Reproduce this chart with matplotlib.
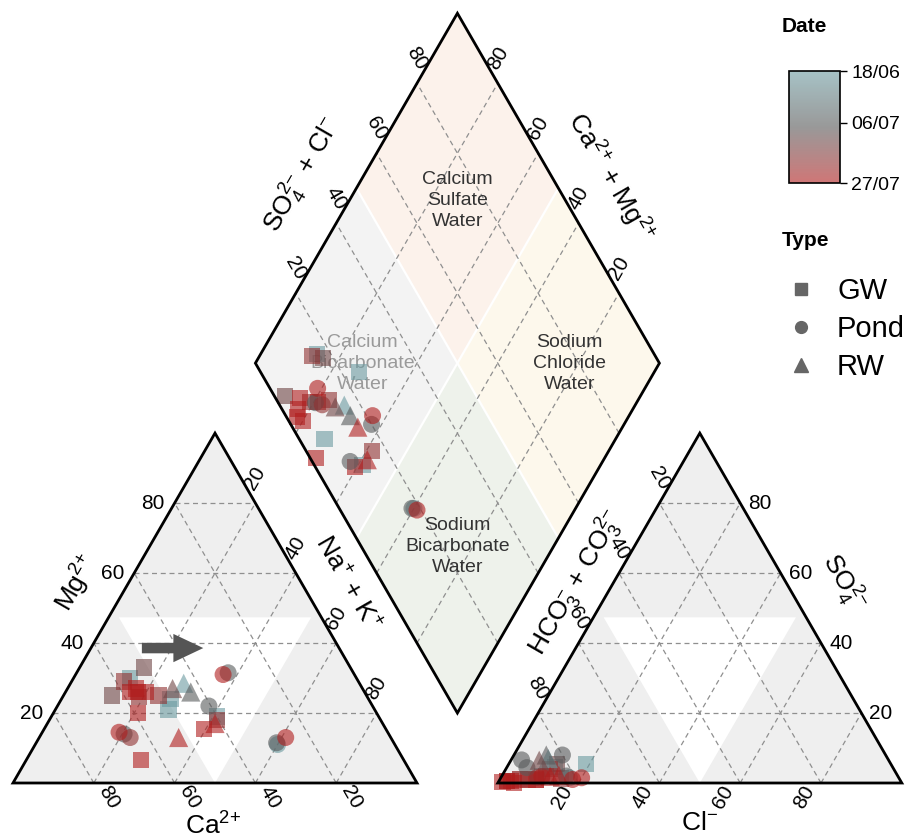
import numpy as np
import matplotlib.pyplot as plt
from matplotlib.colors import LinearSegmentedColormap, Normalize
from matplotlib.patches import Polygon, FancyArrow
from matplotlib.lines import Line2D
from datetime import date

plt.rcParams['font.family'] = ['Liberation Sans', 'DejaVu Sans']
plt.rcParams['mathtext.default'] = 'regular'

# ---------------- samples (meq %) ----------------
sample_type = ['GW', 'GW', 'GW', 'GW', 'GW', 'GW', 'GW', 'GW', 'GW', 'GW', 'GW',
               'RW', 'RW', 'RW', 'Pond', 'Pond', 'Pond', 'RW', 'GW', 'Pond', 'Pond',
               'Pond', 'GW', 'GW', 'GW', 'RW', 'Pond', 'Pond', 'Pond', 'GW', 'GW']
sample_date = ['13/07', '18/06', '20/07', '13/07', '27/07', '27/07', '27/07', '20/07',
               '18/06', '18/06', '27/07', '13/07', '18/06', '06/07', '27/07', '20/07',
               '06/07', '27/07', '27/07', '27/07', '06/07', '06/07', '27/07', '20/07',
               '18/06', '27/07', '06/07', '27/07', '18/06', '27/07', '20/07']
ca = [51.0, 56.0, 58.0, 63.0, 58.0, 56.0, 54.0, 51.5, 49.0, 51.0, 59.0,
      47.0, 43.5, 43.0, 66.5, 64.5, 65.5, 52.5, 65.0, 32.5, 31.0,
      40.5, 45.0, 40.5, 40.0, 41.5, 29.0, 26.0, 29.0, 56.0, 56.5]
mg = [33.0, 30.0, 29.0, 25.0, 26.0, 26.0, 26.0, 25.0, 24.0, 21.0, 20.0,
      27.0, 28.5, 26.0, 14.5, 13.0, 14.0, 13.0, 6.5, 31.0, 31.5,
      22.0, 15.5, 18.0, 19.0, 17.0, 11.5, 13.0, 11.0, 27.0, 24.5]
nak = [16.0, 14.0, 13.0, 12.0, 16.0, 18.0, 20.0, 23.5, 27.0, 28.0, 21.0,
       26.0, 28.0, 31.0, 19.0, 22.5, 20.5, 34.5, 28.5, 36.5, 37.5,
       37.5, 39.5, 41.5, 41.0, 41.5, 59.5, 61.0, 60.0, 17.0, 19.0]
hco3 = [82.5, 83.5, 85.0, 97.5, 94.0, 97.5, 96.5, 87.0, 75.5, 93.8, 90.0,
        86.5, 84.0, 84.0, 88.2, 89.4, 90.8, 83.8, 98.7, 78.5, 80.0,
        90.6, 90.2, 83.7, 88.0, 86.1, 82.0, 81.0, 81.5, 96.0, 92.0]
cl = [12.0, 12.0, 11.0, 2.0, 5.0, 2.0, 3.0, 11.0, 19.0, 5.0, 9.0,
      7.0, 9.0, 8.0, 10.0, 9.0, 2.6, 14.0, 1.0, 20.0, 12.0,
      5.0, 9.0, 15.0, 10.0, 12.0, 16.0, 18.0, 17.0, 4.0, 7.0]
so4 = [5.5, 4.5, 4.0, 0.5, 1.0, 0.5, 0.5, 2.0, 5.5, 1.2, 1.0,
       6.5, 7.0, 8.0, 1.8, 1.6, 6.6, 2.2, 0.3, 1.5, 8.0,
       4.4, 0.8, 1.3, 2.0, 1.9, 2.0, 1.0, 1.5, 0.0, 1.0]

type_names = ['GW', 'Pond', 'RW']
type_markers = {'GW': 's', 'Pond': 'o', 'RW': '^'}
type_sizes = {'GW': 135, 'Pond': 150, 'RW': 190}
date_ticks = ['18/06', '06/07', '27/07']
grid_values = [20, 40, 60, 80]

# ---------------- geometry ----------------
H = np.sqrt(3) / 2
GAP = 0.2
OX = 1 + GAP          # left corner of anion triangle


def day_number(s):
    d, m = s.split('/')
    return (date(2023, int(m), int(d)) - date(2023, 6, 18)).days


def cation_xy(c, m, n):
    t = c + m + n
    return n / t + m / t / 2, m / t * H


def anion_xy(h, c, s):
    t = h + c + s
    return OX + c / t + s / t / 2, s / t * H


def diamond_xy(a, s):
    # a = (Ca+Mg) fraction, s = (SO4+Cl) fraction
    bx, by = 1 + GAP / 2, GAP * H
    return bx + 0.5 * (s - a), by + H * (a + s)


fig = plt.figure(figsize=(9.21, 8.38), dpi=100)
ax = fig.add_axes([0, 0, 1, 1])
ax.set_xlim(-13 / 404, 908 / 404)
ax.set_ylim(-55 / 404, 783 / 404)
ax.axis('off')

# ---------------- backgrounds ----------------
GREY_BG = '#efefef'
for ox in (0, OX):
    ax.add_patch(Polygon([(ox, 0), (ox + 1, 0), (ox + 0.5, H)], fc=GREY_BG, ec='none', zorder=0))
    ax.add_patch(Polygon([(ox + 0.262, 0.41), (ox + 0.738, 0.41), (ox + 0.5, 0)],
                         fc='white', ec='none', zorder=0))

regions = [((0.5, 1), (0, 0.5), '#f3f3f3'),     # Ca bicarbonate
           ((0.5, 1), (0.5, 1), '#fcf2eb'),     # Ca sulfate
           ((0, 0.5), (0.5, 1), '#fdf8ec'),     # Na chloride
           ((0, 0.5), (0, 0.5), '#eef2eb')]     # Na bicarbonate
for (a0, a1), (s0, s1), col in regions:
    pts = [diamond_xy(a0, s0), diamond_xy(a1, s0), diamond_xy(a1, s1), diamond_xy(a0, s1)]
    ax.add_patch(Polygon(pts, fc=col, ec='none', zorder=0))
for p, q in [(diamond_xy(0.5, 0), diamond_xy(0.5, 1)), (diamond_xy(0, 0.5), diamond_xy(1, 0.5))]:
    ax.plot([p[0], q[0]], [p[1], q[1]], color='white', lw=1.6, zorder=1)

# ---------------- grid lines ----------------
gkw = dict(color='#8f8f8f', lw=0.9, dashes=(4, 3), zorder=2)
for v in grid_values:
    f = v / 100
    for ox in (0, OX):
        ax.plot([ox + f / 2, ox + 1 - f / 2], [f * H, f * H], **gkw)
        ax.plot([ox + f, ox + f + (1 - f) / 2], [0, (1 - f) * H], **gkw)
        ax.plot([ox + 1 - f, ox + (1 - f) / 2], [0, (1 - f) * H], **gkw)
    p, q = diamond_xy(0, f), diamond_xy(1, f)
    ax.plot([p[0], q[0]], [p[1], q[1]], **gkw)
    p, q = diamond_xy(f, 0), diamond_xy(f, 1)
    ax.plot([p[0], q[0]], [p[1], q[1]], **gkw)

# ---------------- outlines ----------------
okw = dict(fc='none', ec='black', lw=2.0, zorder=6, joinstyle='miter')
ax.add_patch(Polygon([(0, 0), (1, 0), (0.5, H)], **okw))
ax.add_patch(Polygon([(OX, 0), (OX + 1, 0), (OX + 0.5, H)], **okw))
ax.add_patch(Polygon([diamond_xy(0, 0), diamond_xy(1, 0), diamond_xy(1, 1), diamond_xy(0, 1)], **okw))

# ---------------- tick labels ----------------
tkw = dict(fontsize=15, ha='center', va='center', zorder=7)
UP = 0.062
for v in grid_values:
    f = v / 100
    # cation triangle
    ax.text(f / 2 - 0.025, f * H, str(v), **{**tkw, 'ha': 'right'})
    ax.text(1 - f + 0.037, -0.035, str(v), rotation=-60, **tkw)
    ax.text(f + (1 - f) / 2, (1 - f) * H + UP, str(v), rotation=60, **tkw)
    # anion triangle
    ax.text(OX + 1 - f / 2 + 0.02, f * H, str(v), **{**tkw, 'ha': 'left'})
    ax.text(OX + f - 0.042, -0.035, str(v), rotation=60, **tkw)
    ax.text(OX + (1 - f) / 2, (1 - f) * H + UP, str(v), rotation=-60, **tkw)
    # diamond
    x, y = diamond_xy(1, f)
    ax.text(x, y + UP, str(v), rotation=-60, **tkw)
    x, y = diamond_xy(f, 1)
    ax.text(x, y + UP, str(v), rotation=60, **tkw)

# ---------------- axis titles ----------------
lkw = dict(fontsize=19, ha='center', va='center', zorder=7)
ax.text(0.158, 0.495, r'Mg$^{2{+}}$', rotation=60, **lkw)
ax.text(0.827, 0.495, r'Na$^{{+}}$ + K$^{{+}}$', rotation=-60, **lkw)
ax.text(0.495, -0.107, r'Ca$^{2{+}}$', **lkw)
ax.text(1.396, 0.495, r'HCO$_3^{{-}}$ + CO$_3^{2{-}}$', rotation=60, **lkw)
ax.text(2.054, 0.495, r'SO$_4^{2{-}}$', rotation=-60, **lkw)
ax.text(1.700, -0.100, r'Cl$^{{-}}$', **lkw)
ax.text(0.718, 1.505, r'SO$_4^{2{-}}$ + Cl$^{{-}}$', rotation=60, **lkw)
ax.text(1.478, 1.498, r'Ca$^{2{+}}$ + Mg$^{2{+}}$', rotation=-60, **lkw)

# ---------------- water type labels ----------------
wkw = dict(fontsize=14, ha='center', va='center', linespacing=1.3, zorder=3)
x, y = diamond_xy(0.75, 0.75)
ax.text(x, y - 0.03, 'Calcium\nSulfate\nWater', color='#333333', **wkw)
x, y = diamond_xy(0.25, 0.75)
ax.text(x + 0.027, y, 'Sodium\nChloride\nWater', color='#333333', **wkw)
x, y = diamond_xy(0.75, 0.25)
ax.text(x + 0.015, y, 'Calcium\nBicarbonate\nWater', color='#9a9a9a', **wkw)
x, y = diamond_xy(0.25, 0.25)
ax.text(x, y - 0.02, 'Sodium\nBicarbonate\nWater', color='#333333', **wkw)

# ---------------- arrow ----------------
ax.add_patch(FancyArrow(0.319, 0.334, 0.078, 0, width=0.026, head_width=0.07,
                        head_length=0.074, length_includes_head=False,
                        fc='#555555', ec='none', zorder=4))

# ---------------- points ----------------
cmap = LinearSegmentedColormap.from_list('date', ['#6b9aa0', '#555555', '#b01c1c'])
days = np.array([day_number(d) for d in sample_date])
norm = Normalize(vmin=day_number(date_ticks[0]), vmax=day_number(date_ticks[-1]))

ca_a, mg_a, nak_a = np.array(ca), np.array(mg), np.array(nak)
hco3_a, cl_a, so4_a = np.array(hco3), np.array(cl), np.array(so4)
cx, cy = cation_xy(ca_a, mg_a, nak_a)
axx, ayy = anion_xy(hco3_a, cl_a, so4_a)
frac_camg = (ca_a + mg_a) / (ca_a + mg_a + nak_a)
frac_socl = (so4_a + cl_a) / (hco3_a + cl_a + so4_a)
dx, dy = diamond_xy(frac_camg, frac_socl)

types = np.array(sample_type)
order = np.argsort(days, kind='stable')
sc = None
for t in type_names:
    idx = [i for i in order if types[i] == t]
    for xs, ys in ((cx, cy), (axx, ayy), (dx, dy)):
        sc = ax.scatter(xs[idx], ys[idx], c=days[idx], cmap=cmap, norm=norm,
                        marker=type_markers[t], s=type_sizes[t], alpha=0.6,
                        linewidths=0, zorder=5)

# ---------------- legends ----------------
fig.text(782 / 921, 1 - 27 / 838, 'Date', fontsize=15, fontweight='bold', va='center', ha='left')
cax = fig.add_axes([789 / 921, 1 - 183 / 838, 51 / 921, 112 / 838])
cbar = fig.colorbar(sc, cax=cax)
cbar.set_ticks([day_number(d) for d in date_ticks])
cbar.set_ticklabels(date_ticks)
cbar.ax.invert_yaxis()
cbar.ax.tick_params(labelsize=14, length=5, width=1, direction='out', pad=3)
cbar.outline.set_linewidth(1.2)

fig.text(782 / 921, 1 - 241 / 838, 'Type', fontsize=15, fontweight='bold', va='center', ha='left')
handles = [Line2D([], [], marker=type_markers[t], color='#666666', ls='none',
                  markersize=8.5 if t != 'RW' else 10) for t in type_names]
fig.legend(handles, type_names, loc='upper left', bbox_to_anchor=(786 / 921, 1 - 277 / 838),
           frameon=False, fontsize=21, handletextpad=0.75, labelspacing=0.34,
           borderpad=0, borderaxespad=0, handlelength=1.0)

fig.savefig('out.png', dpi=100)
